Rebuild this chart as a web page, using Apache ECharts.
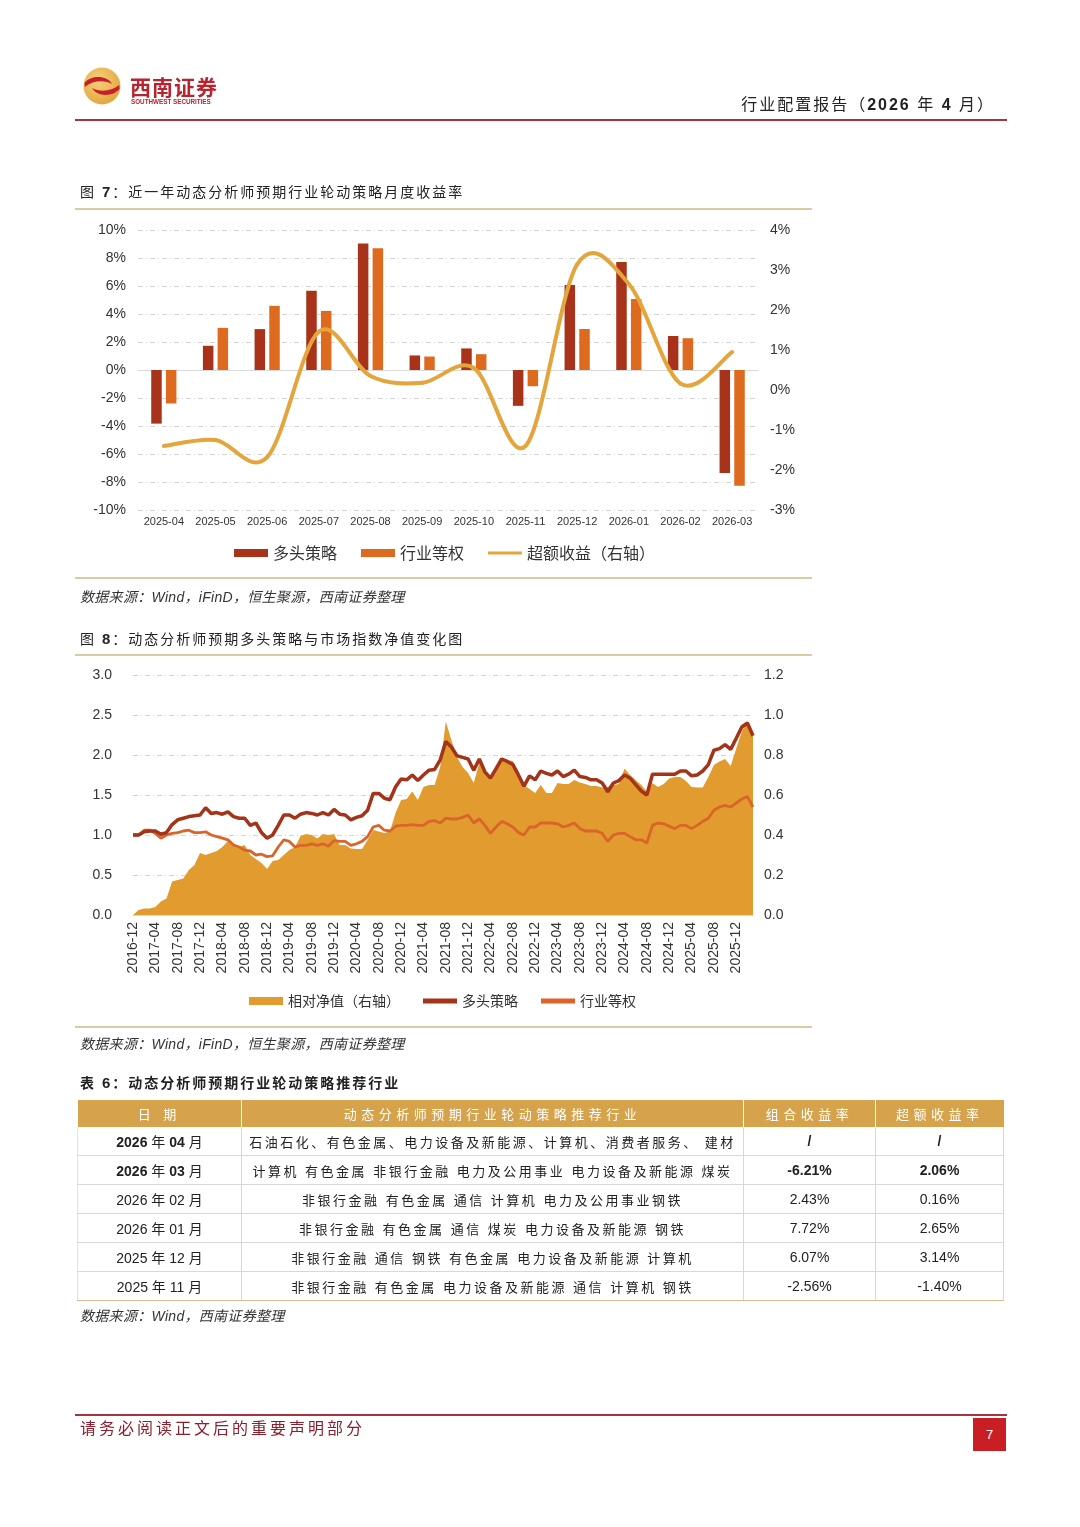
<!DOCTYPE html>
<html><head><meta charset="utf-8">
<script src="https://cdn.jsdelivr.net/npm/echarts@6/dist/echarts.min.js"></script>
<style>
html,body{margin:0;padding:0;}
body{width:1080px;height:1527px;position:relative;background:#fff;overflow:hidden;font-family:'Liberation Sans','Noto Sans CJK SC',sans-serif;color:#222;}
.abs{position:absolute;white-space:nowrap;}
.rule{position:absolute;left:75px;width:737px;height:2px;background:#D9CBA4;}
.ttl{position:absolute;left:80px;height:20px;line-height:20px;font-size:14px;letter-spacing:2px;color:#222;}
.ttl b{font-family:'Liberation Sans';font-size:15px;}
.src{position:absolute;left:80px;height:20px;line-height:20px;font-size:14px;font-style:italic;color:#333;letter-spacing:0.3px;}
#tbl{position:absolute;left:77px;top:1100px;width:926px;border-collapse:collapse;table-layout:fixed;}
#tbl th{background:#D6A24B;color:#fff;height:27px;padding:0;font-weight:normal;font-size:13px;letter-spacing:4.5px;border-right:1px solid #fff;}
#tbl th:last-child{border-right:none;}
#tbl td{height:28px;padding:0;text-align:center;border-bottom:1px solid #D8D8D8;border-right:1px solid #D8D8D8;font-size:14px;color:#222;}
#tbl td:first-child{border-left:1px solid #E2E2E2;}
#tbl tr:last-child td{border-bottom:1.5px solid #D9BE8A;}
#tbl td.ind{font-size:13px;letter-spacing:2.5px;}
#tbl td b{font-family:'Liberation Sans';}
</style></head>
<body>
<div id="chart" style="position:absolute;left:0;top:0;width:1080px;height:1527px;"></div>

<!-- header -->
<svg class="abs" style="left:83px;top:67px" width="38" height="38" viewBox="0 0 38 38">
  <defs><radialGradient id="g" cx="40%" cy="35%" r="70%"><stop offset="0" stop-color="#F6D27A"/><stop offset="1" stop-color="#E2A43C"/></radialGradient></defs>
  <circle cx="19" cy="19" r="18.5" fill="url(#g)"/>
  <path d="M1.5,16 C8,8 24,8 29,17 C22,13 10,13 1.8,20 Z" fill="#C5202C"/>
  <path d="M36.5,22 C30,30 14,30 9,21 C16,25 28,25 36.2,18 Z" fill="#C5202C"/>
</svg>
<div class="abs" style="left:130px;top:74px;font-size:21px;line-height:24px;font-weight:bold;color:#B8232F;letter-spacing:1px;font-family:'Noto Sans CJK SC'">西南证券</div>
<div class="abs" style="left:131px;top:98px;font-size:6.3px;line-height:8px;font-weight:bold;color:#B8232F;font-family:'Liberation Sans'">SOUTHWEST SECURITIES</div>
<div class="abs" style="right:85px;top:95px;height:20px;line-height:20px;font-size:16px;letter-spacing:2px;color:#222;">行业配置报告（<b style="font-family:'Liberation Sans'">2026</b> 年 <b style="font-family:'Liberation Sans'">4</b> 月）</div>
<div class="abs" style="left:75px;top:119px;width:932px;height:2px;background:#A8333F;"></div>

<!-- figure 7 -->
<div class="ttl" style="top:182px">图 <b>7</b>：近一年动态分析师预期行业轮动策略月度收益率</div>
<div class="rule" style="top:208px"></div>
<div class="rule" style="top:577px"></div>
<div class="src" style="top:587px">数据来源：Wind，iFinD，恒生聚源，西南证券整理</div>

<!-- figure 8 -->
<div class="ttl" style="top:629px">图 <b>8</b>：动态分析师预期多头策略与市场指数净值变化图</div>
<div class="rule" style="top:654px"></div>
<div class="rule" style="top:1026px"></div>
<div class="src" style="top:1034px">数据来源：Wind，iFinD，恒生聚源，西南证券整理</div>

<!-- table 6 -->
<div class="ttl" style="top:1073px;font-weight:bold;">表 <b>6</b>：动态分析师预期行业轮动策略推荐行业</div>
<table id="tbl">
<colgroup><col style="width:164px"><col style="width:502px"><col style="width:132px"><col style="width:128px"></colgroup>
<thead><tr><th>日 期</th><th>动态分析师预期行业轮动策略推荐行业</th><th>组合收益率</th><th>超额收益率</th></tr></thead>
<tbody id="tbody"></tbody>
</table>
<div class="src" style="top:1306px">数据来源：Wind，西南证券整理</div>

<!-- footer -->
<div class="abs" style="left:75px;top:1414px;width:932px;height:2px;background:#A8333F;"></div>
<div class="abs" style="left:80px;top:1419px;height:20px;line-height:20px;font-size:16px;letter-spacing:3px;color:#8E1E2C;">请务必阅读正文后的重要声明部分</div>
<div class="abs" style="left:973px;top:1418px;width:33px;height:33px;line-height:33px;background:#C81E24;color:#fff;text-align:center;font-size:13px;">7</div>

<script>
// ---------- Figure 7 data ----------
const months1 = ['2025-04','2025-05','2025-06','2025-07','2025-08','2025-09','2025-10','2025-11','2025-12','2026-01','2026-02','2026-03'];
const longRet = [-3.83, 1.73, 2.92, 5.66, 9.04, 1.04, 1.54, -2.56, 6.07, 7.72, 2.43, -7.35];
const eqRet   = [-2.39, 3.01, 4.58, 4.22, 8.70, 0.96, 1.13, -1.16, 2.93, 5.07, 2.27, -8.27];
const excessRet = [-1.40, -1.25, -1.68, 1.46, 0.35, 0.18, 0.55, -1.40, 3.14, 2.65, 0.16, 0.95];

// ---------- Figure 8 data (monthly, 2016-12 .. 2026-03) ----------
const months2 = [];
for (let y = 2016, m = 12; y < 2026 || (y === 2026 && m <= 3); ) {
  months2.push(y + '-' + (m < 10 ? '0' + m : m));
  m++; if (m > 12) { m = 1; y++; }
}
const navLong = [1.00,1.00,1.04,1.05,1.05,1.01,1.03,1.13,1.19,1.21,1.23,1.24,1.25,1.34,1.27,1.28,1.26,1.29,1.23,1.21,1.21,1.12,1.15,1.03,
  0.96,1.00,1.12,1.25,1.25,1.21,1.26,1.28,1.27,1.25,1.28,1.25,1.32,1.26,1.25,1.19,1.22,1.24,1.31,1.52,1.52,1.46,1.44,1.60,
  1.70,1.69,1.75,1.68,1.75,1.81,1.82,1.94,2.17,2.10,1.99,1.97,1.95,1.81,1.95,1.79,1.71,1.83,1.95,1.92,1.88,1.75,1.61,1.74,
  1.69,1.80,1.77,1.75,1.80,1.73,1.76,1.81,1.73,1.72,1.69,1.69,1.65,1.54,1.65,1.68,1.75,1.71,1.63,1.55,1.50,1.76,1.76,1.76,
  1.76,1.76,1.80,1.80,1.74,1.75,1.80,1.88,2.06,2.08,2.13,2.07,2.21,2.35,2.40,2.24];
const navEq = [1.00,1.00,1.06,1.06,1.02,0.96,1.00,1.02,1.03,1.05,1.06,1.03,1.03,1.04,1.00,0.98,0.96,0.94,0.875,0.85,0.81,0.80,0.75,0.76,
  0.73,0.74,0.85,0.94,0.92,0.85,0.87,0.87,0.89,0.87,0.89,0.86,0.93,0.92,0.92,0.87,0.89,0.92,0.98,1.10,1.12,1.06,1.05,1.11,
  1.12,1.12,1.13,1.12,1.12,1.17,1.18,1.15,1.21,1.20,1.20,1.22,1.25,1.15,1.20,1.12,1.02,1.10,1.17,1.14,1.10,1.03,1.00,1.10,
  1.10,1.15,1.15,1.15,1.14,1.10,1.12,1.15,1.08,1.05,1.05,1.05,1.02,0.92,1.00,1.02,1.02,0.98,0.94,0.94,0.90,1.12,1.15,1.14,
  1.11,1.08,1.12,1.12,1.08,1.12,1.17,1.21,1.31,1.35,1.37,1.35,1.40,1.45,1.48,1.35];
const navRel = [0.00,0.025,0.033,0.033,0.04,0.067,0.083,0.167,0.175,0.183,0.225,0.25,0.31,0.30,0.31,0.32,0.34,0.37,0.35,0.34,0.35,0.30,0.28,0.26,
  0.23,0.27,0.275,0.30,0.325,0.34,0.395,0.405,0.40,0.383,0.405,0.40,0.405,0.35,0.35,0.333,0.33,0.33,0.375,0.425,0.417,0.41,0.417,0.51,
  0.575,0.58,0.617,0.575,0.64,0.65,0.65,0.74,0.967,0.875,0.79,0.74,0.71,0.66,0.76,0.71,0.68,0.725,0.78,0.775,0.77,0.72,0.65,0.63,
  0.61,0.65,0.61,0.61,0.66,0.655,0.655,0.675,0.663,0.655,0.645,0.645,0.637,0.64,0.65,0.655,0.733,0.70,0.675,0.65,0.617,0.66,0.64,0.655,
  0.683,0.69,0.69,0.67,0.64,0.638,0.638,0.69,0.75,0.767,0.78,0.745,0.833,0.917,0.967,0.90];

// ---------- Table 6 data ----------
const tblDates = [['2026','04',true],['2026','03',true],['2026','02',false],['2026','01',false],['2025','12',false],['2025','11',false]];
const tblInds = ['石油石化、有色金属、电力设备及新能源、计算机、消费者服务、 建材',
  '计算机 有色金属 非银行金融 电力及公用事业 电力设备及新能源 煤炭',
  '非银行金融 有色金属 通信 计算机 电力及公用事业钢铁',
  '非银行金融 有色金属 通信 煤炭 电力设备及新能源  钢铁',
  '非银行金融 通信 钢铁 有色金属 电力设备及新能源 计算机',
  '非银行金融 有色金属 电力设备及新能源 通信 计算机 钢铁'];
const tblPort = ['/','-6.21%','2.43%','7.72%','6.07%','-2.56%'];
const tblExcess = ['/','2.06%','0.16%','2.65%','3.14%','-1.40%'];

const tb = document.getElementById('tbody');
tblDates.forEach((d, i) => {
  const tr = document.createElement('tr');
  const bold = d[2];
  const num = s => bold ? '<b>' + s + '</b>' : '<span style="font-family:Liberation Sans">' + s + '</span>';
  tr.innerHTML = '<td>' + num(d[0]) + ' 年 ' + num(d[1]) + ' 月</td>' +
    '<td class="ind">' + tblInds[i] + '</td>' +
    '<td>' + (bold ? '<b>' + tblPort[i] + '</b>' : tblPort[i]) + '</td>' +
    '<td>' + (bold ? '<b>' + tblExcess[i] + '</b>' : tblExcess[i]) + '</td>';
  tb.appendChild(tr);
});

// ---------- chart ----------
const names = {l1:'多头策略', e1:'行业等权', x1:'超额收益（右轴）', r2:'相对净值（右轴）', l2:'多头策略', e2:'行业等权'};
const C = {long:'#A8321A', eq:'#DE6A1F', exc:'#E3A53C', area:'#E29B2E', long2:'#A33319', eq2:'#D9652B'};
const grid = {type:[5,3,1,3], color:'#d4d4d4', width:1};
const lab = {color:'#333', fontSize:14, fontFamily:'Liberation Sans'};
const thinLine = 'path://M0,0L0.001,0M0,8L0.001,8M0,2.6H34V5.4H0Z';
const thickLine = 'path://M0,0L0.001,0M0,8L0.001,8M0,1.6H34V6.4H0Z';

// smooth curve through the data points (Catmull-Rom, like office-chart smoothing), using the axis scales
function smoothRender(params, api) {
  if (params.dataIndex !== 0) return null;
  const pts = excessRet.map((v, i) => api.coord([i, v]));
  const segs = [];
  for (let i = 0; i < pts.length - 1; i++) {
    const p0 = pts[Math.max(i - 1, 0)], p1 = pts[i], p2 = pts[i + 1], p3 = pts[Math.min(i + 2, pts.length - 1)];
    segs.push({
      type:'bezierCurve',
      shape:{x1:p1[0], y1:p1[1], x2:p2[0], y2:p2[1],
        cpx1:p1[0] + (p2[0] - p0[0]) / 6, cpy1:p1[1] + (p2[1] - p0[1]) / 6,
        cpx2:p2[0] - (p3[0] - p1[0]) / 6, cpy2:p2[1] - (p3[1] - p1[1]) / 6},
      style:{fill:null, stroke:C.exc, lineWidth:4, lineCap:'round'}
    });
  }
  return {type:'group', children:segs};
}

const chart = echarts.init(document.getElementById('chart'), null, {renderer:'canvas'});
chart.setOption({
  animation:false,
  backgroundColor:'transparent',
  textStyle:{fontFamily:'Liberation Sans, Noto Sans CJK SC'},
  grid:[{left:138, top:230, width:620, height:280}, {left:133, top:675, width:620, height:240}],
  xAxis:[
    {gridIndex:0, type:'category', data:months1, axisLine:{show:false, onZero:false}, axisTick:{show:false},
     axisLabel:{fontSize:11, color:'#333', margin:6, interval:0, fontFamily:'Liberation Sans'}},
    {gridIndex:0, type:'category', data:months1, axisLine:{show:true, onZero:true, lineStyle:{color:'#d9d9d9'}},
     axisTick:{show:false}, axisLabel:{show:false}},
    {gridIndex:1, type:'category', data:months2, boundaryGap:false, axisLine:{lineStyle:{color:'#d9d9d9'}},
     axisTick:{show:false}, axisLabel:{rotate:90, interval:3, fontSize:14, color:'#333', margin:7, fontFamily:'Liberation Sans'}}
  ],
  yAxis:[
    {gridIndex:0, type:'value', min:-10, max:10, interval:2, axisLine:{show:false}, axisTick:{show:false},
     axisLabel:Object.assign({formatter:'{value}%', margin:12}, lab), splitLine:{lineStyle:grid}},
    {gridIndex:0, type:'value', position:'right', min:-3, max:4, interval:1, axisLine:{show:false}, axisTick:{show:false},
     axisLabel:Object.assign({formatter:'{value}%', margin:12}, lab), splitLine:{show:false}},
    {gridIndex:1, type:'value', min:0, max:3, interval:0.5, axisLine:{show:false}, axisTick:{show:false},
     axisLabel:Object.assign({formatter:v => v.toFixed(1), margin:21}, lab), splitLine:{lineStyle:grid}},
    {gridIndex:1, type:'value', position:'right', min:0, max:1.2, interval:0.2, axisLine:{show:false}, axisTick:{show:false},
     axisLabel:Object.assign({formatter:v => v.toFixed(1), margin:11}, lab), splitLine:{show:false}}
  ],
  legend:[
    {left:234, top:545, padding:0, itemWidth:34, itemHeight:8, itemGap:24, formatter:n => names[n],
     textStyle:{fontSize:16, color:'#333', fontFamily:'Noto Sans CJK SC'},
     data:[{name:'l1', icon:'rect'}, {name:'e1', icon:'rect'}, {name:'x1', icon:thinLine, itemStyle:{color:C.exc}}]},
    {left:249, top:994, padding:0, itemWidth:34, itemHeight:8, itemGap:23, formatter:n => names[n],
     textStyle:{fontSize:14, color:'#333', fontFamily:'Noto Sans CJK SC'},
     data:[{name:'r2', icon:'rect'}, {name:'l2', icon:thickLine, itemStyle:{color:C.long2}}, {name:'e2', icon:thickLine, itemStyle:{color:C.eq2}}]}
  ],
  series:[
    {name:'l1', type:'bar', xAxisIndex:0, yAxisIndex:0, data:longRet, barWidth:10.5, barGap:'40%', itemStyle:{color:C.long}},
    {name:'e1', type:'bar', xAxisIndex:0, yAxisIndex:0, data:eqRet, barWidth:10.5, barGap:'40%', itemStyle:{color:C.eq}},
    {name:'x1', type:'custom', coordinateSystem:'cartesian2d', xAxisIndex:0, yAxisIndex:1, z:5,
     data:excessRet.map((v, i) => [i, v]), encode:{x:0, y:1}, renderItem:smoothRender, itemStyle:{color:C.exc}},
    {name:'r2', type:'line', xAxisIndex:2, yAxisIndex:3, data:navRel, symbol:'none', z:1,
     lineStyle:{width:0, color:C.area}, itemStyle:{color:C.area}, areaStyle:{color:C.area, opacity:1}},
    {name:'l2', type:'line', xAxisIndex:2, yAxisIndex:2, data:navLong, symbol:'none', z:3,
     lineStyle:{color:C.long2, width:3.5}, itemStyle:{color:C.long2}},
    {name:'e2', type:'line', xAxisIndex:2, yAxisIndex:2, data:navEq, symbol:'none', z:2,
     lineStyle:{color:C.eq2, width:2.8}, itemStyle:{color:C.eq2}}
  ]
});
</script>
</body></html>
